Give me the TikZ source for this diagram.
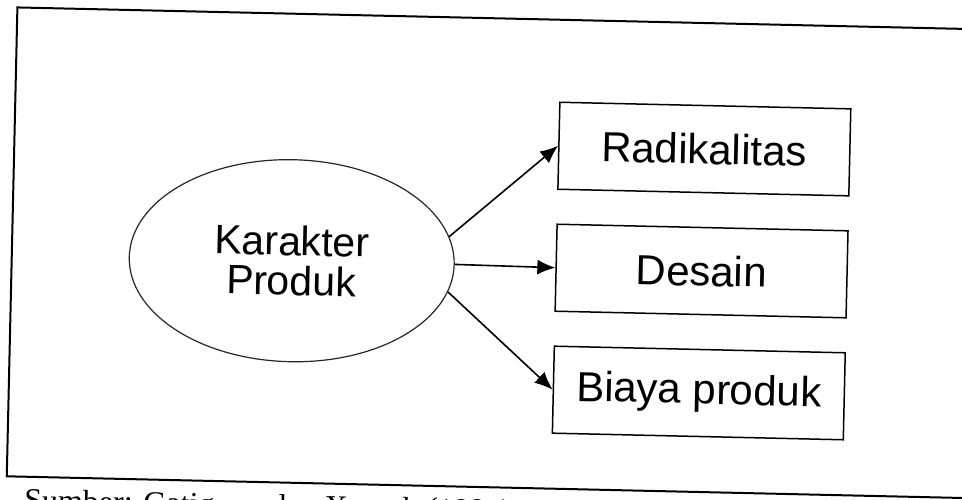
\documentclass[tikz,border=0pt]{standalone}
\usepackage{fontspec}
\setmainfont{Liberation Serif}
\newfontfamily\arial{Liberation Sans}
\usetikzlibrary{shapes.geometric,arrows.meta}
\begin{document}
\begin{tikzpicture}[x=0.5pt, y=-0.5pt,
  box/.style={draw, line width=0.75pt, minimum width=145.5pt, minimum height=43.5pt, inner sep=0pt, font=\arial\fontsize{21}{25}\selectfont},
  arr/.style={-{Latex[length=9pt,width=7.5pt]}, line width=0.8pt}]
\path[use as bounding box, clip] (0,0) rectangle (962,499);
\fill[white] (0,0) rectangle (962,499);
\def\bx{702}
\begin{scope}[rotate around={-1.3:(481,250)}, transform shape]
% frame
\draw[line width=1pt] (1000,18) -- (12,18) -- (12,487) -- (1000,487);
\node[draw=black!85, ellipse, line width=0.6pt, minimum width=162.5pt, minimum height=101pt, align=center, font=\arial\fontsize{20.5}{20}\selectfont] (kp) at (292,265) {Karakter\\Produk};
\node[box] (rad) at (\bx,144) {Radikalitas};
\node[box] (des) at (\bx,266) {Desain};
\node[box] (bp) at (\bx,388) {Biaya produk};
\node[anchor=base west, font=\fontsize{16}{19}\selectfont] (src) at (23,521) {Sumber: Gatignon dan Xuereb (1997)};
% edges
\draw[arr] (kp.10) -- (rad.west);
\draw[arr] (kp.east) -- (des.west);
\draw[arr] (kp.-10) -- (bp.west);
\end{scope}
\end{tikzpicture}
\end{document}
